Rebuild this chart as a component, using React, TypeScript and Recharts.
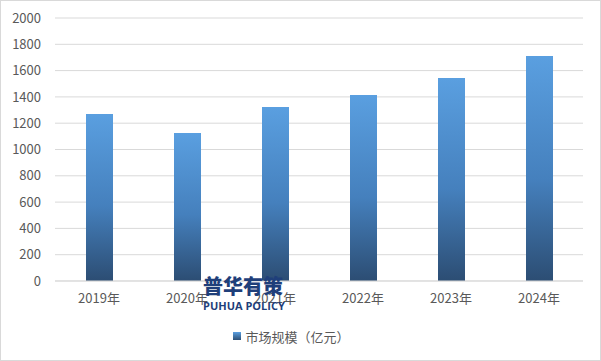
import { BarChart, Bar, XAxis, YAxis, CartesianGrid, Legend } from 'recharts'

const years = ['2019年', '2020年', '2021年', '2022年', '2023年', '2024年']
const marketSize = [1270, 1125, 1323, 1414, 1544, 1711]
const yTicks = [0, 200, 400, 600, 800, 1000, 1200, 1400, 1600, 1800, 2000]
const seriesName = '市场规模（亿元）'

const data = years.map((year, i) => ({ year, value: marketSize[i] }))

const font = '"Noto Sans CJK SC", "Noto Sans", sans-serif'

function LegendBox() {
  return (
    <div style={{ height: 20, display: 'flex', alignItems: 'center', justifyContent: 'center', fontFamily: font, fontSize: 13, color: '#595959' }}>
      <span style={{ width: 8, height: 8, background: 'linear-gradient(#5a9fe0, #2e5075)', marginRight: 4 }} />
      <span>{seriesName}</span>
    </div>
  )
}

export default function App() {
  return (
    <div style={{ position: 'absolute', left: 0, top: 0, width: 601, height: 361, background: '#fff' }}>
      <BarChart width={601} height={361} data={data} margin={{ top: 18, right: 18, bottom: 30, left: 0 }}>
        <defs>
          <linearGradient id="barFill" x1="0" y1="0" x2="0" y2="1">
            <stop offset="0%" stopColor="#5a9fe0" />
            <stop offset="55%" stopColor="#4580bd" />
            <stop offset="100%" stopColor="#2c4d73" />
          </linearGradient>
        </defs>
        <CartesianGrid vertical={false} stroke="#d9d9d9" />
        <XAxis
          dataKey="year"
          height={30}
          tickLine={false}
          axisLine={{ stroke: '#d9d9d9' }}
          tickMargin={7}
          tick={{ fill: '#595959', fontSize: 13, fontFamily: font }}
        />
        <YAxis
          width={55}
          domain={[0, 2000]}
          ticks={yTicks}
          tickLine={false}
          axisLine={false}
          tickMargin={8}
          tick={{ fill: '#595959', fontSize: 13, fontFamily: font }}
        />
        <Legend verticalAlign="bottom" height={20} wrapperStyle={{ bottom: 15 }} content={<LegendBox />} />
        <Bar dataKey="value" name={seriesName} fill="url(#barFill)" barSize={27} isAnimationActive={false} />
      </BarChart>
      {/* watermark */}
      <div style={{ position: 'absolute', left: 203, top: 272, width: 80, textAlign: 'center', color: '#1f3f7a', fontFamily: font, whiteSpace: 'nowrap', pointerEvents: 'none' }}>
        <div style={{ fontSize: 20, fontWeight: 900, lineHeight: '27px' }}>普华有策</div>
        <div style={{ fontSize: 11, fontWeight: 700, lineHeight: '13px', fontFamily: '"Open Sans", sans-serif' }}>PUHUA POLICY</div>
      </div>
      <div style={{ position: 'absolute', inset: 0, border: '1px solid #d9d9d9', pointerEvents: 'none' }} />
    </div>
  )
}
